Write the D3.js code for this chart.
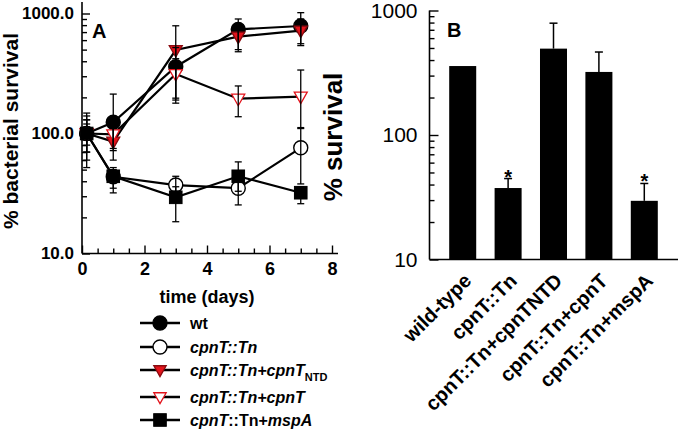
<!DOCTYPE html>
<html><head><meta charset="utf-8">
<script src="https://cdn.jsdelivr.net/npm/d3@7"></script>
<style>
body{margin:0;background:#fff;}
svg{font-family:"Liberation Sans",Arial,sans-serif;}
</style></head><body>
<svg id="c" width="680" height="431"></svg>
<script>
// ---------- Panel A data ----------
const days = [0.15, 1, 3, 5, 7];
const wt      = [100, 124, 360, 738, 787];
const wtHi    = [148, 213, 520, 900, 1016];
const wtLo    = [52, 72, 179, 480, 560];
const tn      = [100, 43.6, 37.2, 35, 76];
const tnHi    = [130, 50, 44, 40, 110];
const tnLo    = [70, 32, 33, 25.4, 38];
const ntd     = [100, 85.5, 496, 641, 719];
const ntdHi   = [120, 110, 790, 800, 900];
const ntdLo   = [80, 60, 197, 500, 540];
const cpn     = [100, 98.5, 313, 195, 203];
const cpnHi   = [130, 120, 420, 249, 338];
const cpnLo   = [70, 75, 190, 138, 112];
const msp     = [100, 44, 29.4, 44, 32.1];
const mspHi   = [140, 52, 36, 58, 36];
const mspLo   = [60, 35, 18.4, 33, 26];
const xTicksA = [0, 2, 4, 6, 8];
const yTicksA = [10, 100, 1000];

// ---------- Panel B data ----------
const categories = ["wild-type", "cpnT::Tn", "cpnT::Tn+cpnTNTD", "cpnT::Tn+cpnT", "cpnT::Tn+mspA"];
const survival   = [358, 37.5, 494, 321, 29.6];
const survivalHi = [358, 44.7, 791, 464, 40.8];
const signif     = [false, true, false, false, true];
const yTicksB = [10, 100, 1000];

const RED = "#e3131b";
const svg = d3.select("#c");

// ================= Panel A =================
const xA = d3.scaleLinear().domain([0, 8]).range([82, 332]);
const yA = d3.scaleLog().domain([10, 1000]).range([253.5, 13.5]);
const gA = svg.append("g");

gA.append("line").attr("x1",82).attr("x2",82).attr("y1",2).attr("y2",253.5).attr("stroke","#000").attr("stroke-width",1.6);
gA.append("line").attr("x1",82).attr("x2",338).attr("y1",253.5).attr("y2",253.5).attr("stroke","#000").attr("stroke-width",1.6);

const minorY = [];
[10,100].forEach(d=>{for(let k=2;k<=9;k++)minorY.push(d*k);});
const yAxA = d3.axisLeft(yA).tickValues(yTicksA).tickSize(-8).tickPadding(8).tickFormat(d3.format(".1f"));
const yAxAm = d3.axisLeft(yA).tickValues(minorY).tickSize(-5).tickFormat("");
const gy = gA.append("g").attr("transform","translate(82,0)").call(yAxA);
gA.append("g").attr("transform","translate(82,0)").call(yAxAm).select(".domain").remove();
gy.select(".domain").remove();
gy.selectAll("text").attr("font-size",17).attr("font-weight","bold").attr("font-family","Liberation Sans, Arial").attr("fill","#000");

const minorX = d3.range(0, 8.01, 0.5).filter(v=>v%2!==0);
const xAxA = d3.axisBottom(xA).tickValues(xTicksA).tickSize(-8).tickPadding(9).tickFormat(d3.format("d"));
const xAxAm = d3.axisBottom(xA).tickValues(minorX).tickSize(-5).tickFormat("");
const gx = gA.append("g").attr("transform","translate(0,253.5)").call(xAxA);
gA.append("g").attr("transform","translate(0,253.5)").call(xAxAm).select(".domain").remove();
gx.select(".domain").remove();
gx.selectAll("text").attr("font-size",18).attr("font-weight","bold").attr("font-family","Liberation Sans, Arial").attr("fill","#000");
svg.selectAll(".tick line").attr("stroke-width",1.4);

gA.append("text").attr("x",207).attr("y",303).attr("text-anchor","middle").attr("font-size",18).attr("font-weight","bold").text("time (days)");
gA.append("text").attr("transform","translate(18,131) rotate(-90)").attr("text-anchor","middle").attr("font-size",21).attr("font-weight","bold").text("% bacterial survival");
gA.append("text").attr("x",92).attr("y",38).attr("font-size",20).attr("font-weight","bold").text("A");

const series = [
  {name:"wt", v:wt, hi:wtHi, lo:wtLo, shape:"circle", fill:"#000", stroke:"#000"},
  {name:"tn", v:tn, hi:tnHi, lo:tnLo, shape:"circle", fill:"#fff", stroke:"#000"},
  {name:"ntd", v:ntd, hi:ntdHi, lo:ntdLo, shape:"tri", fill:RED, stroke:"#8a0a0f"},
  {name:"cpn", v:cpn, hi:cpnHi, lo:cpnLo, shape:"tri", fill:"#fff", stroke:RED},
  {name:"msp", v:msp, hi:mspHi, lo:mspLo, shape:"square", fill:"#000", stroke:"#000"}
];
const line = d3.line().x((d,i)=>xA(days[i])).y(d=>yA(d));
series.forEach(s=>{
  gA.append("path").attr("d",line(s.v)).attr("fill","none").attr("stroke","#000").attr("stroke-width",2.2);
});
function marker(g, shape, cx, cy, fill, stroke, sc){
  sc = sc||1;
  if(shape==="circle"){
    g.append("circle").attr("cx",cx).attr("cy",cy).attr("r",7*sc).attr("fill",fill).attr("stroke",stroke).attr("stroke-width",1.4);
  } else if(shape==="square"){
    const h=6.3*sc;
    g.append("rect").attr("x",cx-h).attr("y",cy-h).attr("width",2*h).attr("height",2*h).attr("fill",fill).attr("stroke",stroke).attr("stroke-width",1);
  } else {
    const w=6.5*sc, t=4.5*sc, b=7*sc;
    g.append("path").attr("d",`M${cx-w},${cy-t}L${cx+w},${cy-t}L${cx},${cy+b}Z`).attr("fill",fill).attr("stroke",stroke).attr("stroke-width",1.3).attr("stroke-linejoin","miter");
  }
}
series.forEach(s=>{
  s.v.forEach((d,i)=>marker(gA, s.shape, xA(days[i]), yA(d), s.fill, s.stroke));
});
series.forEach(s=>{
  s.v.forEach((d,i)=>{
    const x = xA(days[i]);
    gA.append("line").attr("x1",x).attr("x2",x).attr("y1",yA(s.hi[i])).attr("y2",yA(s.lo[i])).attr("stroke","#000").attr("stroke-width",1.3);
    [s.hi[i], s.lo[i]].forEach(e=>{
      gA.append("line").attr("x1",x-3.5).attr("x2",x+3.5).attr("y1",yA(e)).attr("y2",yA(e)).attr("stroke","#000").attr("stroke-width",1.3);
    });
  });
});

// legend
const legY = [323, 347, 370, 397, 420];
const legend = svg.append("g");
series.forEach((s,i)=>{
  legend.append("line").attr("x1",140).attr("x2",180).attr("y1",legY[i]).attr("y2",legY[i]).attr("stroke","#000").attr("stroke-width",2.4);
  marker(legend, s.shape, 160, legY[i], s.fill, s.stroke, s.shape==="tri"?0.95:1);
});
const legText = [
  [{t:"wt"}],
  [{t:"cpnT::Tn", it:true}],
  [{t:"cpnT::Tn+cpnT", it:true},{t:"NTD", sub:true}],
  [{t:"cpnT::Tn+cpnT", it:true}],
  [{t:"cpnT", it:true},{t:"::Tn+"},{t:"mspA", it:true}]
];
legText.forEach((parts,i)=>{
  const t = legend.append("text").attr("x",190).attr("y",legY[i]+6).attr("font-size",16).attr("font-weight","bold");
  parts.forEach(p=>{
    const ts = t.append("tspan").text(p.t);
    if(p.it) ts.attr("font-style","italic");
    if(p.sub) ts.attr("font-size",11).attr("dy",5);
  });
});

// ================= Panel B =================
const xB = d3.scaleBand().domain(categories).range([429, 678]).paddingInner(0.405).paddingOuter(0.445);
const yB = d3.scaleLog().domain([10, 1000]).range([259.5, 10.5]);
const gB = svg.append("g");

gB.selectAll("rect.bar").data(categories).enter().append("rect")
  .attr("x",d=>xB(d)).attr("width",xB.bandwidth())
  .attr("y",(d,i)=>yB(survival[i])).attr("height",(d,i)=>yB(10)-yB(survival[i])).attr("fill","#000");
categories.forEach((c,i)=>{
  const x = xB(c)+xB.bandwidth()/2;
  if(survivalHi[i]>survival[i]){
    gB.append("line").attr("x1",x).attr("x2",x).attr("y1",yB(survivalHi[i])).attr("y2",yB(survival[i])).attr("stroke","#000").attr("stroke-width",1.5);
    gB.append("line").attr("x1",x-4).attr("x2",x+4).attr("y1",yB(survivalHi[i])).attr("y2",yB(survivalHi[i])).attr("stroke","#000").attr("stroke-width",1.5);
  }
  if(signif[i]){
    gB.append("text").attr("x",x).attr("y",yB(survivalHi[i])+5).attr("text-anchor","middle").attr("font-size",20).attr("font-weight","bold").text("*");
  }
});

const yAxB = d3.axisLeft(yB).tickValues(yTicksB).tickSize(-9).tickPadding(12).tickFormat(d3.format("d"));
const yAxBm = d3.axisLeft(yB).tickValues(minorY).tickSize(-5).tickFormat("");
const gyB = gB.append("g").attr("transform","translate(429.5,0)").call(yAxB);
gB.append("g").attr("transform","translate(429.5,0)").call(yAxBm).select(".domain").remove();
gyB.select(".domain").remove();
gyB.selectAll("text").attr("font-size",21).attr("font-family","Liberation Sans, Arial").attr("fill","#000");
gB.selectAll(".tick line").attr("stroke-width",1.4);
gB.append("line").attr("x1",429.5).attr("x2",429.5).attr("y1",10.5).attr("y2",259.5).attr("stroke","#000").attr("stroke-width",1.6);
gB.append("line").attr("x1",429.5).attr("x2",678).attr("y1",259.5).attr("y2",259.5).attr("stroke","#000").attr("stroke-width",1.6);

categories.forEach(c=>{
  const x = xB(c)+xB.bandwidth()/2;
  gB.append("text").attr("transform",`translate(${x+10},${282}) rotate(-45)`).attr("text-anchor","end")
    .attr("font-size",20).attr("font-weight","bold").text(c);
});
gB.append("text").attr("transform","translate(342,137) rotate(-90)").attr("text-anchor","middle").attr("font-size",26).attr("font-weight","bold").text("% survival");
gB.append("text").attr("x",447).attr("y",37).attr("font-size",20).attr("font-weight","bold").text("B");
</script>
</body></html>
